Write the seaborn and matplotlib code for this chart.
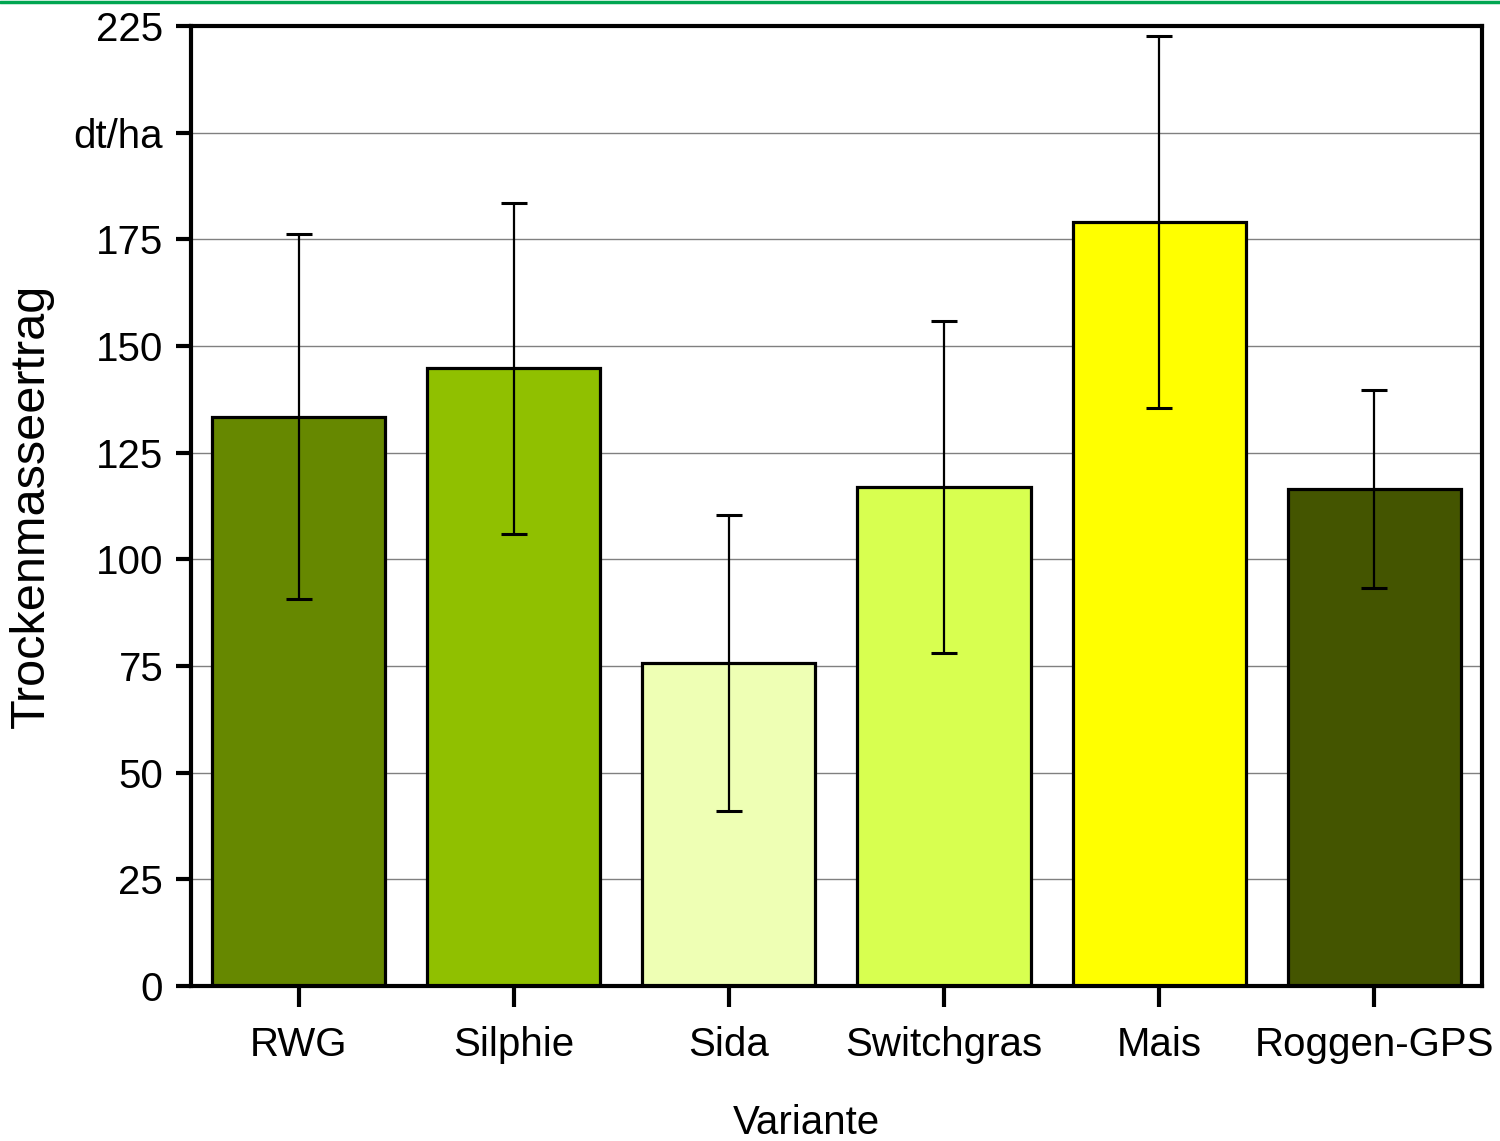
import numpy as np
import pandas as pd
import seaborn as sns
import matplotlib
matplotlib.use("Agg")
from matplotlib import pyplot as plt
from matplotlib import font_manager
from matplotlib.lines import Line2D

# data
varianten = ["RWG", "Silphie", "Sida", "Switchgras", "Mais", "Roggen-GPS"]
ertrag = [133.4, 144.8, 75.7, 117.0, 179.1, 116.5]
fehler = [42.8, 38.8, 34.7, 38.9, 43.6, 23.3]
farben = ["#668800", "#90C000", "#EEFFB4", "#D8FF50", "#FFFF00", "#445500"]
yticks = [0, 25, 50, 75, 100, 125, 150, 175, 200, 225]
ytick_labels = ["0", "25", "50", "75", "100", "125", "150", "175", "dt/ha", "225"]

sns.set_style("white")
plt.rcParams["font.family"] = ["Liberation Sans", "DejaVu Sans"]
plt.rcParams["text.color"] = "black"
plt.rcParams["axes.labelcolor"] = "black"
plt.rcParams["xtick.color"] = "black"
plt.rcParams["ytick.color"] = "black"

# narrow font if there is one, else regular Liberation at a smaller size
names = {f.name for f in font_manager.fontManager.ttflist}
if "Liberation Sans Narrow" in names:
    narrow, nsize = ["Liberation Sans Narrow", "DejaVu Sans"], 34
else:
    narrow, nsize = ["Liberation Sans", "DejaVu Sans"], 29

df = pd.DataFrame({"Variante": varianten, "Ertrag": ertrag})

fig = plt.figure(figsize=(15, 11.41), dpi=100)
ax = fig.add_axes([0.1273, 0.1358, 0.8607, 0.8414])

sns.barplot(data=df, x="Variante", y="Ertrag", hue="Variante", palette=farben,
            legend=False, width=0.805, edgecolor="black", linewidth=2.3,
            saturation=1, ax=ax, zorder=2)
ax.errorbar(np.arange(len(varianten)), ertrag, yerr=fehler, fmt="none",
            ecolor="black", elinewidth=1.6, capsize=9.5, capthick=2.2, zorder=3)

ax.set_xlim(-0.5, 5.5)
ax.set_ylim(0, 225)
ax.set_yticks(yticks)
ax.set_yticklabels(ytick_labels, family=narrow, fontsize=nsize)
ax.set_xticks(range(len(varianten)))
ax.set_xticklabels(varianten, family=narrow, fontsize=nsize)
ax.yaxis.grid(True, color="#808080", linewidth=1.0, zorder=0)
ax.set_axisbelow(True)

ax.tick_params(axis="y", direction="out", length=11, width=3, pad=9, left=True)
ax.tick_params(axis="x", direction="out", length=15, width=3, pad=14, bottom=True)
for s in ax.spines.values():
    s.set_visible(True)
    s.set_color("black")
    s.set_linewidth(3)

ax.set_ylabel("Trockenmasseertrag", fontsize=35, labelpad=14)
ax.set_xlabel("Variante", family=narrow, fontsize=nsize)
ax.xaxis.set_label_coords(0.4764, -0.1225)

# green rule along the top edge
fig.add_artist(Line2D([0, 1], [0.9985, 0.9985], color="#00A651", linewidth=2.5,
                      transform=fig.transFigure))

fig.savefig("out.png", dpi=100)
